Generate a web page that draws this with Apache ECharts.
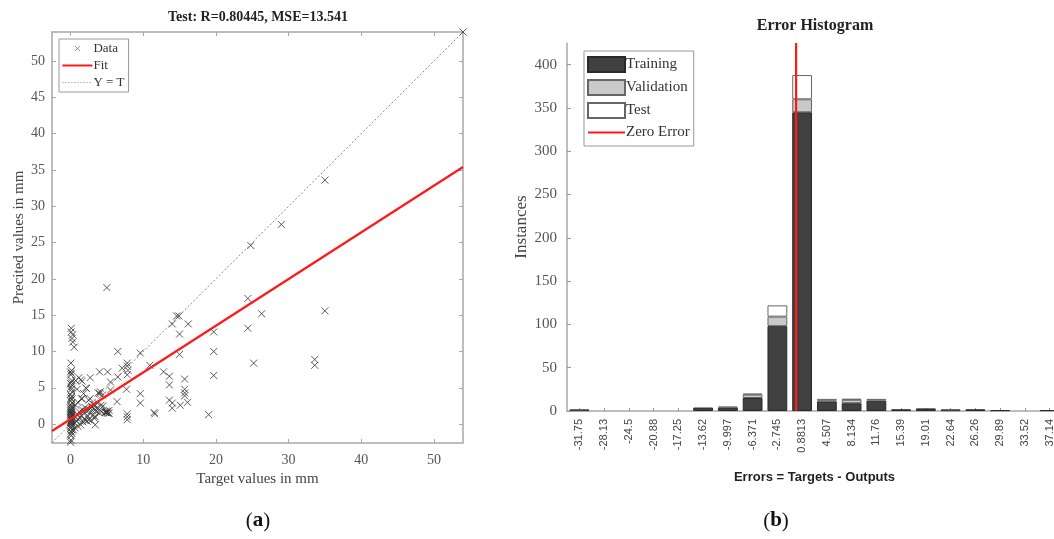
<!DOCTYPE html>
<html>
<head>
<meta charset="utf-8">
<script src="https://cdn.jsdelivr.net/npm/echarts@6/dist/echarts.min.js"></script>
<style>
html,body{margin:0;padding:0;background:#fff;overflow:hidden;width:1054px;height:539px;}
#c{width:1066px;height:539px;}
</style>
</head>
<body>
<div id="c"></div>
<script>
// ---------- (a) regression data ----------
const scatterTargets = [
  0,0.05,0.1,0,0.15,0.05,0.2,0,0.1,0.05,0.15,0,0.2,0.1,0.05,0,0.15,0.1,0.2,0.05,
  0,0.1,0.15,0.05,0.2,0,0.1,0.05,0.15,0,0.2,0.1,0.05,0,0.15,0.1,0.05,0.2,0,0.1,
  0.05,0.15,0,0.2,0.1,0.05,0.15,0,0.1,0.2,0.05,0.1,0,0.15,0.05,0.5,0.3,0.2,0.3,0.1,0.1,
  0.5,0.6,0.8,0.9,1.0,1.1,1.2,1.3,1.4,1.5,1.6,1.7,1.8,1.9,2.0,2.1,2.2,2.3,2.4,2.5,
  2.6,2.7,2.8,2.9,3.0,3.1,3.2,3.3,3.5,3.6,3.9,4.0,4.3,4.5,4.8,5.0,5.2,0.4,0.6,0.7,
  1.0,1.5,2.7,1.15,1.6,0.7,0.9,2.1,2.2,1.8,1.4,2.7,3.4,3.4,3.8,4.1,3.0,3.4,1.6,2.5,
  5.3,4.8,5.0,5.5,5.5,4.0,5.1,4.0,4.4,3.7,4.2,5.0,5.3,4.8,6.4,6.5,6.5,7.1,7.7,7.8,
  7.8,7.9,7.8,7.8,7.8,7.8,9.6,9.6,9.6,10.9,11.5,11.6,12.8,13.6,13.6,13.6,14.0,14.0,14.0,
  14.6,14.9,15.0,15.0,15.1,15.7,15.7,15.7,15.7,16.1,16.2,19.0,19.7,19.7,19.7,5.0,24.4,
  24.4,25.2,26.3,33.6,33.6,35.0,24.8,29.0,35.0,54.0
];
const scatterOutputs = [
  -2.5,-2.2,-1.6,-1.4,-1.2,-1.0,-0.8,-0.6,-0.5,-0.3,-0.2,0,0.1,0.2,0.3,0.4,0.5,0.6,0.7,0.8,
  0.9,1.0,1.1,1.2,1.3,1.4,1.5,1.6,1.7,1.8,1.9,2.0,2.1,2.2,2.3,2.5,2.7,2.9,3.2,3.4,
  3.6,3.8,4.1,4.4,4.8,5.1,5.4,5.6,5.8,6.0,6.8,7.0,7.2,7.4,8.4,10.6,11.3,11.8,12.3,12.7,13.2,
  0.2,1.0,0.4,1.4,-0.3,0.6,1.7,0.9,-0.1,1.2,2.0,0.3,1.5,0.7,2.3,0.5,1.8,0.4,1.1,0.6,
  2.0,1.6,0.5,2.4,1.9,1.2,2.7,0.8,1.8,2.2,1.6,2.0,1.7,2.5,1.6,1.7,1.5,-0.8,-0.5,2.6,
  3.0,3.5,3.5,6.4,5.9,6.0,4.8,5.0,4.9,4.2,6.1,6.4,-0.1,1.0,4.3,4.45,2.4,2.6,3.5,3.3,
  1.9,1.8,1.55,5.8,4.7,7.2,7.2,4.2,4.0,2.9,2.6,1.7,1.5,1.6,3.1,10.0,6.5,7.7,4.8,8.4,
  8.0,7.4,6.8,1.4,1.0,0.6,9.8,4.2,2.9,8.1,1.6,1.4,7.2,6.6,5.4,3.3,13.8,2.9,2.2,
  14.9,14.9,12.4,9.6,2.6,6.2,4.8,4.3,3.9,3.0,13.8,1.3,12.7,10.0,6.7,18.8,17.3,
  13.2,8.4,15.2,8.9,8.1,15.6,24.6,27.5,33.6,54.0
];
const fitLine = [[-2.55, -0.95], [54, 35.41]];
const identityLine = [[-2.55, -2.55], [54, 54]];
const regTicks = [0, 10, 20, 30, 40, 50];
const regYTicks = [0, 5, 10, 15, 20, 25, 30, 35, 40, 45, 50];

// ---------- (b) error histogram data ----------
const binCenters = ['-31.75','-28.13','-24.5','-20.88','-17.25','-13.62','-9.997','-6.371','-2.745','0.8813',
                    '4.507','8.134','11.76','15.39','19.01','22.64','26.26','29.89','33.52','37.14'];
const training   = [1,0,0,0,0,4,4,15,98,345,11,9,12,2,3,1,2,1,0,1];
const validation = [1,0,0,0,0,0,1,4,11,15,1,4,2,0,0,1,0,0,0,0];
const testCounts = [0,0,0,0,0,0,0,1,13,28,2,1,0,0,0,0,0,0,0,0];
const binEdgeMin = -33.563, binEdgeMax = 38.953;
const zeroErrorLine = [[0, 0], [0, 425]];
const histYTicks = [0, 50, 100, 150, 200, 250, 300, 350, 400];

const serif = '"Liberation Serif", "DejaVu Serif", serif';
const sans = '"Liberation Sans", Arial, sans-serif';
const axisGray = '#a8a8a8';

const scatterData = scatterTargets.map((t, i) => [t, scatterOutputs[i]]);
const nz = a => a.map(v => v === 0 ? null : v);
const xPath = 'path://M0,0L10,10M10,0L0,10';
const xLegendPath = 'path://M0,0L0,0M12.5,3.5L17.5,8.5M17.5,3.5L12.5,8.5M30,12L30,12';
const lineIcon = 'path://M0,5L30,5L30,7L0,7Z';
const dotIcon = 'path://M0,0L0,0M0,5.5h1v1h-1zM3,5.5h1v1h-1zM6,5.5h1v1h-1zM9,5.5h1v1h-1zM12,5.5h1v1h-1zM15,5.5h1v1h-1zM18,5.5h1v1h-1zM21,5.5h1v1h-1zM24,5.5h1v1h-1zM27,5.5h1v1h-1zM30,12L30,12';

const chart = echarts.init(document.getElementById('c'), null, {renderer: 'canvas'});

const regAxisCommon = {
  type: 'value', min: -2.55, max: 54,
  splitLine: {show: false},
  axisLine: {show: false, onZero: false},
  axisLabel: {show: false}
};

chart.setOption({
  animation: false,
  backgroundColor: '#fff',
  grid: [
    {left: 52, top: 32, width: 411, height: 411, show: true, borderColor: axisGray, borderWidth: 1.5, backgroundColor: 'transparent'},
    {left: 567, top: 43, width: 495, height: 368}
  ],
  xAxis: [
    Object.assign({}, regAxisCommon, {
      gridIndex: 0, position: 'bottom',
      axisTick: {show: true, inside: true, length: 4, lineStyle: {color: axisGray}, customValues: regTicks},
      axisLabel: {show: true, color: '#555', fontFamily: serif, fontSize: 14, margin: 10,
        customValues: regTicks,
        formatter: v => regTicks.indexOf(v) >= 0 ? String(v) : ''},
      name: 'Target values in mm', nameLocation: 'middle', nameGap: 28,
      nameTextStyle: {color: '#444', fontFamily: serif, fontSize: 15}
    }),
    Object.assign({}, regAxisCommon, {gridIndex: 0, position: 'top',
      axisTick: {show: true, inside: true, length: 4, lineStyle: {color: axisGray}, customValues: regTicks}}),
    {
      type: 'category', gridIndex: 1, data: binCenters, boundaryGap: true,
      axisLine: {show: true, lineStyle: {color: axisGray, width: 1.5}},
      axisTick: {show: true, inside: true, alignWithLabel: true, length: 3, lineStyle: {color: '#999'}},
      axisLabel: {rotate: 90, interval: 0, color: '#444', fontFamily: sans, fontSize: 11, margin: 8},
      splitLine: {show: false},
      name: 'Errors = Targets - Outputs', nameLocation: 'middle', nameGap: 60,
      nameTextStyle: {color: '#222', fontFamily: sans, fontSize: 13, fontWeight: 'bold'}
    },
    {
      type: 'value', gridIndex: 1, min: binEdgeMin, max: binEdgeMax, show: false
    }
  ],
  yAxis: [
    Object.assign({}, regAxisCommon, {
      gridIndex: 0, position: 'left', min: -2.6,
      axisTick: {show: true, inside: true, length: 4, lineStyle: {color: axisGray}, customValues: regYTicks},
      axisLabel: {show: true, color: '#555', fontFamily: serif, fontSize: 14, margin: 7,
        customValues: regYTicks,
        formatter: v => regYTicks.indexOf(v) >= 0 ? String(v) : ''},
      name: 'Precited values in mm', nameLocation: 'middle', nameGap: 25,
      nameTextStyle: {color: '#444', fontFamily: serif, fontSize: 15}
    }),
    Object.assign({}, regAxisCommon, {gridIndex: 0, position: 'right', min: -2.6,
      axisTick: {show: true, inside: true, length: 4, lineStyle: {color: axisGray}, customValues: regYTicks}}),
    {
      type: 'value', gridIndex: 1, min: 0, max: 425,
      axisLine: {show: true, onZero: false, lineStyle: {color: axisGray, width: 1.5}},
      axisTick: {show: true, inside: true, length: 4, lineStyle: {color: '#999'}, customValues: histYTicks},
      axisLabel: {color: '#555', fontFamily: serif, fontSize: 15, margin: 10, customValues: histYTicks,
        formatter: v => histYTicks.indexOf(v) >= 0 ? String(v) : ''},
      splitLine: {show: false},
      name: 'Instances', nameLocation: 'middle', nameGap: 37,
      nameTextStyle: {color: '#444', fontFamily: serif, fontSize: 17}
    }
  ],
  legend: [
    {
      left: 59, top: 39, orient: 'vertical', itemGap: 4, itemWidth: 30, itemHeight: 12,
      padding: [3, 4, 3, 3], backgroundColor: '#fff', borderColor: '#999', borderWidth: 1,
      textStyle: {fontFamily: serif, fontSize: 13, color: '#333', padding: [0, 0, 0, -4]},
      data: [
        {name: 'Data', icon: xLegendPath, itemStyle: {borderWidth: 0.8, borderColor: '#555'}},
        {name: 'Fit', icon: lineIcon},
        {name: 'Y = T', icon: dotIcon}
      ]
    },
    {
      left: 584, top: 51, orient: 'vertical', itemGap: 6, itemWidth: 37, itemHeight: 15,
      padding: [5, 4, 6, 3], backgroundColor: '#fff', borderColor: '#999', borderWidth: 1,
      textStyle: {fontFamily: serif, fontSize: 15, color: '#333', padding: [0, 0, 0, -4]},
      data: [
        {name: 'Training', icon: 'rect'},
        {name: 'Validation', icon: 'rect'},
        {name: 'Test', icon: 'rect'},
        {name: 'Zero Error', icon: 'path://M0,6.5L37,6.5L37,8.5L0,8.5Z'}
      ]
    }
  ],
  graphic: [
    {type: 'text', x: 258, y: 17, style: {text: 'Test: R=0.80445, MSE=13.541', align: 'center', verticalAlign: 'middle',
      font: 'bold 14px ' + serif, fill: '#222'}},
    {type: 'text', x: 815, y: 26, style: {text: 'Error Histogram', align: 'center', verticalAlign: 'middle',
      font: 'bold 16px ' + serif, fill: '#222'}},
    {type: 'text', x: 258, y: 521, style: {
      text: '({b|a})', align: 'center', verticalAlign: 'middle', font: '21px ' + serif, fill: '#111',
      rich: {b: {fontWeight: 'bold', fontSize: 21, fontFamily: serif, fill: '#111'}}}},
    {type: 'text', x: 776, y: 521, style: {
      text: '({b|b})', align: 'center', verticalAlign: 'middle', font: '21px ' + serif, fill: '#111',
      rich: {b: {fontWeight: 'bold', fontSize: 21, fontFamily: serif, fill: '#111'}}}}
  ],
  series: [
    {
      name: 'Y = T', type: 'line', xAxisIndex: 0, yAxisIndex: 0, data: identityLine,
      symbol: 'none', lineStyle: {color: '#888', width: 1, type: [2, 2]}, itemStyle: {color: '#888'}, z: 2
    },
    {
      name: 'Fit', type: 'line', xAxisIndex: 0, yAxisIndex: 0, data: fitLine,
      symbol: 'none', lineStyle: {color: '#ff1a1a', width: 2.2}, itemStyle: {color: '#ff1a1a'}, z: 4
    },
    {
      name: 'Data', type: 'scatter', xAxisIndex: 0, yAxisIndex: 0, data: scatterData,
      symbol: xPath, symbolSize: 7,
      itemStyle: {color: 'rgba(0,0,0,0)', borderColor: '#333', borderWidth: 1}, z: 3
    },
    {
      name: 'Training', type: 'bar', stack: 'h', xAxisIndex: 2, yAxisIndex: 2, data: nz(training),
      barCategoryGap: '20%',
      itemStyle: {color: '#404040', borderColor: '#2a2a2a', borderWidth: 1}
    },
    {
      name: 'Validation', type: 'bar', stack: 'h', xAxisIndex: 2, yAxisIndex: 2, data: nz(validation),
      barCategoryGap: '20%',
      itemStyle: {color: '#c9c9c9', borderColor: '#666', borderWidth: 1}
    },
    {
      name: 'Test', type: 'bar', stack: 'h', xAxisIndex: 2, yAxisIndex: 2, data: nz(testCounts),
      barCategoryGap: '20%',
      itemStyle: {color: '#ffffff', borderColor: '#666', borderWidth: 1}
    },
    {
      name: 'Zero Error', type: 'line', xAxisIndex: 3, yAxisIndex: 2, data: zeroErrorLine,
      symbol: 'none', lineStyle: {color: '#ff1a1a', width: 2.2}, itemStyle: {color: '#ff1a1a'}, z: 5
    }
  ]
});
</script>
</body>
</html>
